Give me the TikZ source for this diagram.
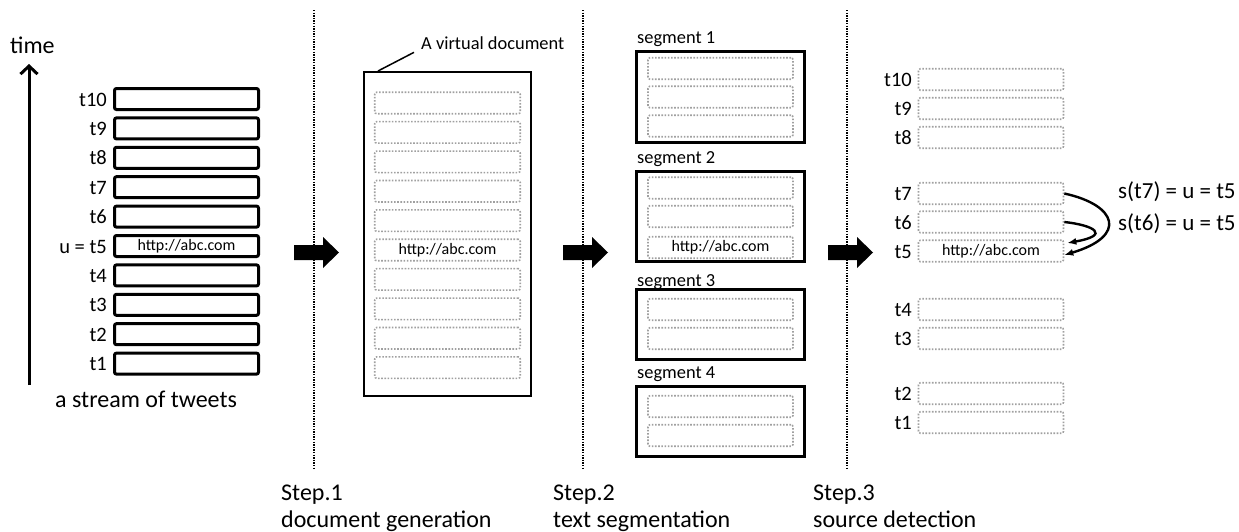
\documentclass[tikz,border=0pt]{standalone}
\usepackage{fontspec}
\setmainfont{Carlito}
\usetikzlibrary{arrows.meta}
\definecolor{slotgray}{HTML}{A0A0A0}
\begin{document}
\begin{tikzpicture}[x=1pt,y=-1pt,
  tweet/.style={draw, line width=3pt, rounded corners=2pt, minimum width=144pt,
    minimum height=21pt, inner sep=0pt, font=\fontsize{16}{18}\selectfont},
  slot/.style={draw=slotgray, line width=1.6pt, dash pattern=on 1.6pt off 1.6pt,
    rounded corners=2pt, minimum width=145pt, minimum height=21.5pt, inner sep=0pt,
    font=\fontsize{16}{18}\selectfont},
  tlabel/.style={anchor=base east, inner sep=0pt, font=\fontsize{20.5}{22}\selectfont},
  biglabel/.style={anchor=base west, inner sep=0pt, font=\fontsize{24}{27}\selectfont},
  seglabel/.style={anchor=base west, inner sep=0pt, font=\fontsize{18.4}{20}\selectfont},
  seglabelS/.style={anchor=base west, inner sep=0pt, font=\fontsize{23}{25}\selectfont},
  segbox/.style={draw, line width=3pt, inner sep=0pt, minimum width=168pt},
  divider/.style={line width=1.4pt, dash pattern=on 1.3pt off 1.3pt},
  fatarrow/.style={fill=black},
  link/.style={line width=2.4pt, -{Latex[length=9pt,width=7pt]}},
]
\useasboundingbox (0,0) rectangle (1239,531);

% ---------- stream of tweets ----------
\node[biglabel] (time) at (10,53) {time};
\coordinate (timefoot) at (29,385);
\coordinate (timehead) at (29,64);
\draw[line width=3pt, -{Straight Barb[length=8pt,width=17pt,line width=3pt]}] (timefoot) -- (timehead);
\foreach \i in {1,...,10} {
  \pgfmathsetmacro{\yy}{99+29.4*(10-\i)}
  \ifnum\i=5
    \node[tweet] (tw\i) at (186.5,\yy) {http://abc.com};
    \node[tlabel] (twl\i) at (107,\yy+7) {u = t5};
  \else
    \node[tweet] (tw\i) at (186.5,\yy) {};
    \node[tlabel] (twl\i) at (107,\yy+7) {t\i};
  \fi
}
\node[biglabel] (stream) at (55,407) {a stream of tweets};

% ---------- dividers and step captions ----------
\foreach \x/\n in {314/1,583/2,847/3} {
  \coordinate (dtop\n) at (\x,10);
  \coordinate (dbot\n) at (\x,469);
  \draw[divider] (dtop\n) -- (dbot\n);
}
\node[biglabel] (step1) at (281,500) {Step.1};
\node[biglabel] (cap1) at (281,527) {document generation};
\node[biglabel] (step2) at (553,500) {Step.2};
\node[biglabel] (cap2) at (553,527) {text segmentation};
\node[biglabel] (step3) at (813,500) {Step.3};
\node[biglabel] (cap3) at (813,527) {source detection};

% ---------- process arrows ----------
\foreach \x/\n in {316.5/1,585.5/2,850.5/3} {
  \coordinate (fa\n) at (\x,252.5);
  \fill[fatarrow] (fa\n) ++(-22.5,-7.5) -- ++(29,0) -- ++(0,-8) -- ++(16,15.5)
    -- ++(-16,15.5) -- ++(0,-8) -- ++(-29,0) -- cycle;
}

% ---------- virtual document ----------
\node[draw, line width=2pt, minimum width=167pt, minimum height=324pt, inner sep=0pt] (doc) at (447.5,234) {};
\foreach \k in {0,...,9} {
  \pgfmathsetmacro{\yy}{103+29.4*\k}
  \ifnum\k=5
    \node[slot, minimum width=145.5pt] (ds\k) at (447.5,\yy) {http://abc.com};
  \else
    \node[slot, minimum width=145.5pt] (ds\k) at (447.5,\yy) {};
  \fi
}
\node[seglabel] (vdlabel) at (421,49) {A virtual document};
\coordinate (lead) at (378,71);
\draw[line width=1.5pt] (lead) -- ([xshift=-7pt,yshift=-3pt]vdlabel.south west);

% ---------- segments ----------
\node[segbox, minimum height=91pt] (seg1) at (720.5,97) {};
\node[segbox, minimum height=90pt] (seg2) at (720.5,216.5) {};
\node[segbox, minimum height=70pt] (seg3) at (720.5,324.5) {};
\node[segbox, minimum height=70pt] (seg4) at (720.5,421.5) {};
\node[seglabel] (sl1) at (637,43) {segment 1};
\node[seglabel] (sl2) at (637,163) {segment 2};
\node[seglabel] (sl3) at (637,286) {segment 3};
\node[seglabel] (sl4) at (637,378) {segment 4};
\foreach \yy/\n in {68.5/a,97/b,126/c,188/d,216.5/e,309.5/g,338.5/h,406.5/i,435.5/j}
  \node[slot] (ss\n) at (720.5,\yy) {};
\node[slot] (ssf) at (720.5,247.5) {http://abc.com};

% ---------- source detection ----------
\foreach \yy/\i in {79.5/10,108.5/9,137.5/8,193.5/7,222/6,309.5/4,338.5/3,393.5/2,422.5/1} {
  \node[slot] (s\i) at (991,\yy) {};
  \node[tlabel] (sl\i) at (912,\yy+7) {t\i};
}
\node[slot] (s5) at (991,251) {http://abc.com};
\node[tlabel] (sl5) at (912,258) {t5};

\draw[link] (s7.east) .. controls (1117,205) and (1128,236) .. ([yshift=-4pt]s5.east);
\draw[link] (s6.east) .. controls (1093,225) and (1112,235) .. ([xshift=3pt,yshift=8pt]s5.east);
\node[seglabelS] (src7) at (1118,198) {s(t7) = u = t5};
\node[seglabelS] (src6) at (1118,230) {s(t6) = u = t5};

\end{tikzpicture}
\end{document}
